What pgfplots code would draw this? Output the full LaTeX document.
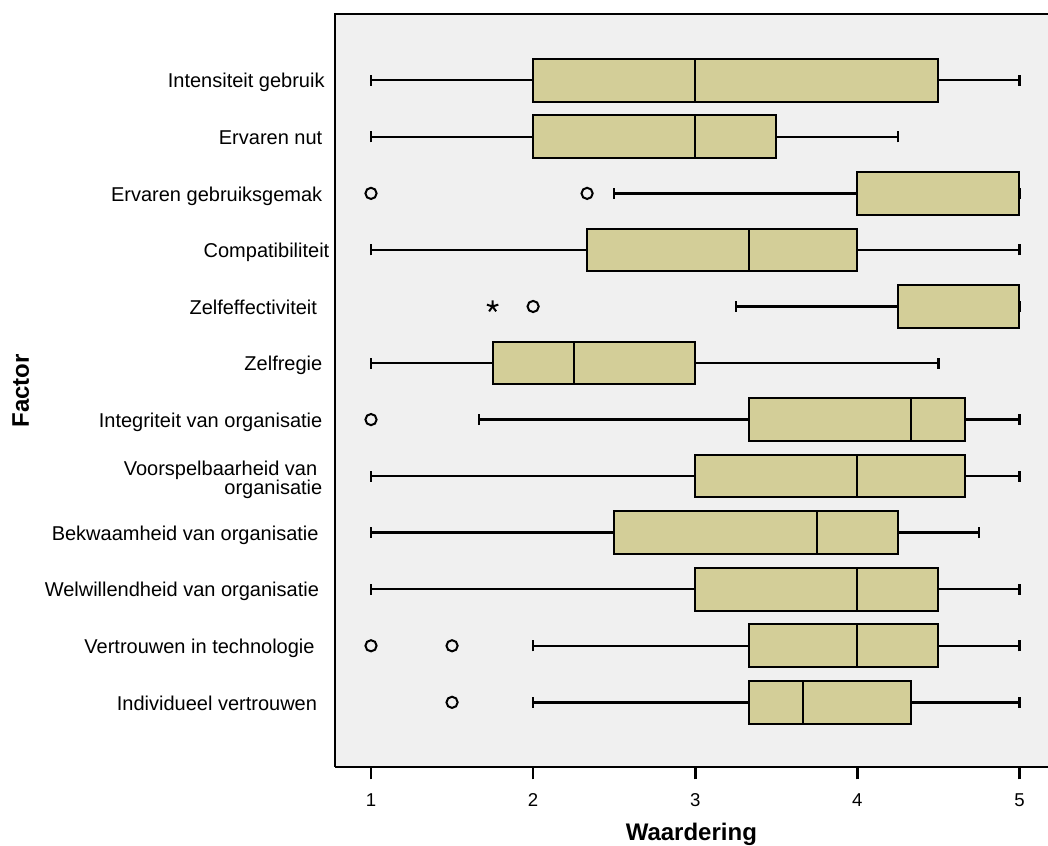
\documentclass[border=0pt]{standalone}
\usepackage{pgfplots}
\pgfplotsset{compat=1.18}
\usepgfplotslibrary{statistics}
\usepackage{fontspec}
\setmainfont{Liberation Sans}
\definecolor{boxfill}{RGB}{211,206,152}
\definecolor{bgcol}{RGB}{240,240,240}
\begin{document}
\begin{tikzpicture}
\useasboundingbox (-167.35pt,-38.85pt) rectangle (356.65pt,383.65pt);
\begin{axis}[
  at={(0,0)}, anchor=south west,
  scale only axis,
  width=356.65pt, height=376.5pt,
  xmin=0.776, xmax=5.176,
  ymin=-0.149, ymax=13.167,
  clip=false,
  axis background/.style={fill=bgcol},
  axis line style={draw=none},
  tick align=outside,
  major tick length=6pt,
  xtick={1,2,3,4,5},
  xticklabels={1,2,3,4,5},
  xtick pos=bottom,
  x tick style={black, line width=1.3pt},
  xticklabel style={font=\fontsize{9.3}{11}\selectfont, inner sep=0pt, anchor=north, yshift=-7pt},
  ytick={1,...,12},
  ytick pos=left,
  y tick style={draw=none},
  yticklabels={
    Individueel vertrouwen\hspace*{2.65pt},
    Vertrouwen in technologie\hspace*{3.85pt},
    Welwillendheid van organisatie\hspace*{1.65pt},
    Bekwaamheid van organisatie\hspace*{1.85pt},
    {\raisebox{-0.8pt}{\begin{tabular}{@{}r@{}}Voorspelbaarheid van\hspace*{2.5pt}\\[-2.6pt]organisatie\end{tabular}}},
    Integriteit van organisatie,
    Zelfregie,
    Zelfeffectiviteit\hspace*{2.65pt},
    Compatibiliteit\hspace*{-3.5pt},
    Ervaren gebruiksgemak,
    Ervaren nut,
    Intensiteit gebruik\hspace*{-1.15pt}
  },
  yticklabel style={font=\fontsize{10}{12}\selectfont, inner sep=0pt, anchor=base east, yshift=-3.85pt},
  xlabel={Waardering},
  ylabel={Factor},
  x label style={at={(axis description cs:0.5,-0.0975)}, anchor=base, font=\fontsize{12}{14}\selectfont\bfseries},
  y label style={at={(axis description cs:-0.4286,0.5)}, anchor=base, rotate=0, font=\fontsize{12}{14}\selectfont\bfseries},
  boxplot/draw direction=x,
  boxplot/box extend=0.755,
  boxplot/whisker extend=0.195,
  boxplot/every box/.style={fill=boxfill, draw=black, line width=1pt},
  boxplot/every median/.style={draw=black, line width=1pt},
  boxplot/every whisker/.style={draw=black, line width=1.2pt},
]
% 12 Intensiteit gebruik
\addplot[boxplot prepared={lower whisker=1, lower quartile=2, median=3, upper quartile=4.5, upper whisker=5, draw position=12}] coordinates {};
% 11 Ervaren nut
\addplot[boxplot prepared={lower whisker=1, lower quartile=2, median=3, upper quartile=3.5, upper whisker=4.25, draw position=11}] coordinates {};
% 10 Ervaren gebruiksgemak
\addplot[boxplot prepared={lower whisker=2.5, lower quartile=4, median=5, upper quartile=5, upper whisker=5, draw position=10}] coordinates {};
% 9 Compatibiliteit
\addplot[boxplot prepared={lower whisker=1, lower quartile=2.333, median=3.333, upper quartile=4, upper whisker=5, draw position=9}] coordinates {};
% 8 Zelfeffectiviteit
\addplot[boxplot prepared={lower whisker=3.25, lower quartile=4.25, median=5, upper quartile=5, upper whisker=5, draw position=8}] coordinates {};
% 7 Zelfregie
\addplot[boxplot prepared={lower whisker=1, lower quartile=1.75, median=2.25, upper quartile=3, upper whisker=4.5, draw position=7}] coordinates {};
% 6 Integriteit van organisatie
\addplot[boxplot prepared={lower whisker=1.667, lower quartile=3.333, median=4.333, upper quartile=4.667, upper whisker=5, draw position=6}] coordinates {};
% 5 Voorspelbaarheid van organisatie
\addplot[boxplot prepared={lower whisker=1, lower quartile=3, median=4, upper quartile=4.667, upper whisker=5, draw position=5}] coordinates {};
% 4 Bekwaamheid van organisatie
\addplot[boxplot prepared={lower whisker=1, lower quartile=2.5, median=3.75, upper quartile=4.25, upper whisker=4.75, draw position=4}] coordinates {};
% 3 Welwillendheid van organisatie
\addplot[boxplot prepared={lower whisker=1, lower quartile=3, median=4, upper quartile=4.5, upper whisker=5, draw position=3}] coordinates {};
% 2 Vertrouwen in technologie
\addplot[boxplot prepared={lower whisker=2, lower quartile=3.333, median=4, upper quartile=4.5, upper whisker=5, draw position=2}] coordinates {};
% 1 Individueel vertrouwen
\addplot[boxplot prepared={lower whisker=2, lower quartile=3.333, median=3.667, upper quartile=4.333, upper whisker=5, draw position=1}] coordinates {};
% outliers
\addplot[only marks, mark=o, mark size=2.8pt, black, line width=1pt] coordinates {
  (1,10) (2.333,10) (2,8) (1,6) (1,2) (1.5,2) (1.5,1)};
% extremes
\addplot[only marks, mark=star, mark size=3pt, black, line width=1pt] coordinates {(1.75,8)};
% frame
\draw[line width=1pt] (rel axis cs:0,0) -- (rel axis cs:1.02,0);
\draw[line width=1pt] (rel axis cs:1.02,1) -- (rel axis cs:0,1) -- (rel axis cs:0,0);
\end{axis}
\end{tikzpicture}
\end{document}
